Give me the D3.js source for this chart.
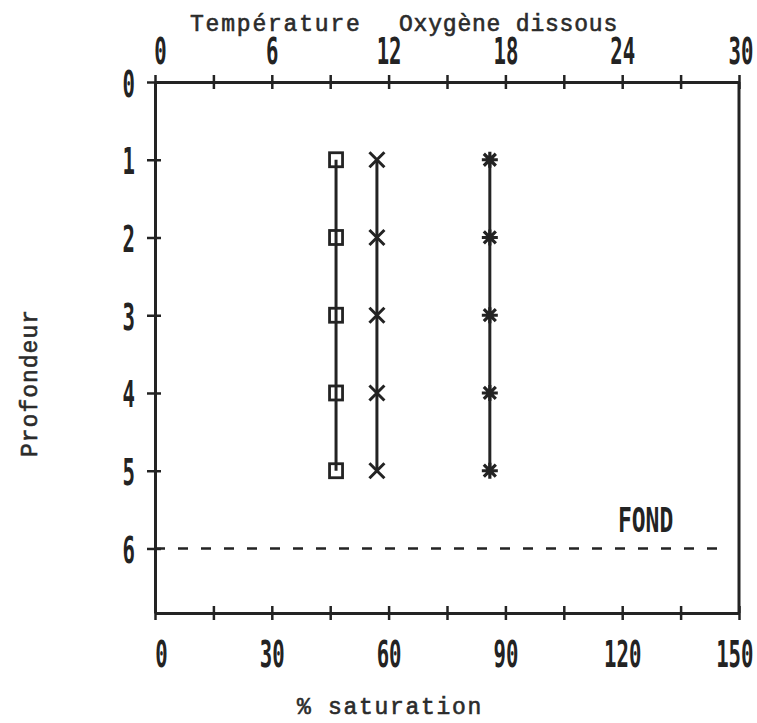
<!DOCTYPE html>
<html>
<head>
<meta charset="utf-8">
<script src="https://cdn.jsdelivr.net/npm/d3@7"></script>
<style>
  body { margin: 0; background: #fff; }
  svg { display: block; }
</style>
</head>
<body>
<svg id="chart" width="757" height="723"></svg>
<script>
// Profile values by depth (m)
const depths = [1, 2, 3, 4, 5];
const temperature = [9.3, 9.3, 9.3, 9.3, 9.3];   // °C, top scale
const oxygen = [11.4, 11.4, 11.4, 11.4, 11.4];    // mg/l, top scale
const saturation = [86, 86, 86, 86, 86];          // %, bottom scale

// Axis ticks and labels
const topTicks = [0, 3, 6, 9, 12, 15, 18, 21, 24, 27, 30];
const topLabels = [0, 6, 12, 18, 24, 30];
const bottomTicks = [0, 15, 30, 45, 60, 75, 90, 105, 120, 135, 150];
const bottomLabels = [0, 30, 60, 90, 120, 150];
const depthTicks = [0, 1, 2, 3, 4, 5, 6];
const bottomDepth = 6;      // lake bottom ("FOND")
const depthMax = 6.83;

const svg = d3.select('#chart');
const ink = '#232323';
const plotLeft = 155, plotRight = 739, plotTop = 82, plotBottom = 613;

const xTop = d3.scaleLinear().domain([0, 30]).range([plotLeft, plotRight]);
const xBot = d3.scaleLinear().domain([0, 150]).range([plotLeft, plotRight]);
const y = d3.scaleLinear().domain([0, depthMax]).range([plotTop, plotBottom]);

const digitFont = "'DejaVu Sans Mono', monospace";
const typeFont = "'Liberation Mono', 'DejaVu Sans Mono', monospace";

// Tall, narrow printer digits: a bold mono face stretched vertically
const SX = 0.9, SY = 1.65;
function styleDigits(sel, dx, dy) {
  sel.attr('font-family', digitFont)
     .attr('font-weight', 'bold')
     .attr('font-size', 23)
     .attr('fill', ink)
     .attr('dy', null)
     .attr('transform', `scale(${SX},${SY})`)
     .attr('x', dx / SX)
     .attr('y', dy / SY);
}

// Top axis
const gTop = svg.append('g')
  .attr('transform', `translate(0,${plotTop})`)
  .call(d3.axisTop(xTop).tickValues(topTicks).tickSizeOuter(0)
    .tickFormat(d => topLabels.includes(d) ? String(d) : ''));
gTop.selectAll('.tick line').attr('y1', -7).attr('y2', 7);
gTop.selectAll('.tick text').call(styleDigits, 0, -18);
gTop.selectAll('.tick text').filter(d => d === 0).attr('x', 5 / SX);
gTop.selectAll('.tick text').filter(d => d === 30)
  .attr('text-anchor', 'end').attr('x', 14 / SX);

// Bottom axis
const gBot = svg.append('g')
  .attr('transform', `translate(0,${plotBottom})`)
  .call(d3.axisBottom(xBot).tickValues(bottomTicks).tickSizeOuter(0)
    .tickFormat(d => bottomLabels.includes(d) ? String(d) : ''));
gBot.selectAll('.tick line').attr('y1', -7).attr('y2', 7);
gBot.selectAll('.tick text').call(styleDigits, 0, 54);
gBot.selectAll('.tick text').filter(d => d === 0).attr('x', 6 / SX);
gBot.selectAll('.tick text').filter(d => d === 150)
  .attr('text-anchor', 'end').attr('x', 14 / SX);

// Left axis (depth)
const gLeft = svg.append('g')
  .attr('transform', `translate(${plotLeft},0)`)
  .call(d3.axisLeft(y).tickValues(depthTicks).tickSizeOuter(0).tickFormat(d => String(d)));
gLeft.selectAll('.tick line').attr('x1', -8).attr('x2', 6);
gLeft.selectAll('.tick text').call(styleDigits, -20, 14);

[gTop, gBot, gLeft].forEach(g => {
  g.select('.domain').attr('stroke', ink).attr('stroke-width', 3);
  g.selectAll('.tick line').attr('stroke', ink).attr('stroke-width', 2.5);
});

// Right frame edge
svg.append('line')
  .attr('x1', plotRight).attr('x2', plotRight)
  .attr('y1', y(0)).attr('y2', y(depthMax))
  .attr('stroke', ink).attr('stroke-width', 3);

// Bottom of the lake
svg.append('line')
  .attr('x1', plotLeft).attr('x2', xBot(147))
  .attr('y1', y(bottomDepth)).attr('y2', y(bottomDepth))
  .attr('stroke', ink).attr('stroke-width', 2.5)
  .attr('stroke-dasharray', '10 13');
svg.append('text')
  .attr('transform', `translate(${xBot(126)},${y(bottomDepth) - 16}) scale(1,1.43)`)
  .attr('text-anchor', 'middle')
  .text('FOND')
  .attr('font-family', digitFont).attr('font-weight', 'bold')
  .attr('font-size', 23).attr('fill', ink);

// Profiles
const series = [
  { values: temperature, x: xTop, marker: 'square' },
  { values: oxygen, x: xTop, marker: 'cross' },
  { values: saturation, x: xBot, marker: 'star' }
];

const line = d3.line();
series.forEach(s => {
  const pts = depths.map((d, i) => [s.x(s.values[i]), y(d)]);
  svg.append('path')
    .attr('d', line(pts))
    .attr('fill', 'none').attr('stroke', ink).attr('stroke-width', 3);

  const g = svg.append('g');
  pts.forEach(([px, py]) => {
    const m = g.append('g').attr('transform', `translate(${px},${py})`);
    if (s.marker === 'square') {
      m.append('rect').attr('x', -6.5).attr('y', -7).attr('width', 13).attr('height', 14)
        .attr('fill', 'none').attr('stroke', ink).attr('stroke-width', 2.8);
    } else if (s.marker === 'cross') {
      m.append('path').attr('d', 'M-7.5,-7.5L7.5,7.5M7.5,-7.5L-7.5,7.5')
        .attr('stroke', ink).attr('stroke-width', 3);
    } else {
      m.append('path').attr('d', 'M0,-8L0,8M-8,0L8,0M-6,-6L6,6M6,-6L-6,6')
        .attr('stroke', ink).attr('stroke-width', 3.2);
    }
  });
});

// Axis titles, typewriter style
function typeText(sel) {
  sel.attr('font-family', typeFont).attr('font-size', 23).attr('fill', '#2b2b2b')
     .attr('stroke', '#2b2b2b').attr('stroke-width', 0.6);
}
svg.append('text').attr('x', 190).attr('y', 31).text('Température')
  .call(typeText).attr('letter-spacing', 1.8);
svg.append('text').attr('x', 399).attr('y', 31).text('Oxygène dissous')
  .call(typeText).attr('letter-spacing', 0.8);
svg.append('text').attr('x', 390).attr('y', 714).attr('text-anchor', 'middle')
  .text('% saturation').call(typeText).attr('letter-spacing', 1.7);
svg.append('text')
  .attr('transform', 'translate(37,383) rotate(-90)')
  .attr('text-anchor', 'middle')
  .text('Profondeur').call(typeText).attr('letter-spacing', 1);
</script>
</body>
</html>
